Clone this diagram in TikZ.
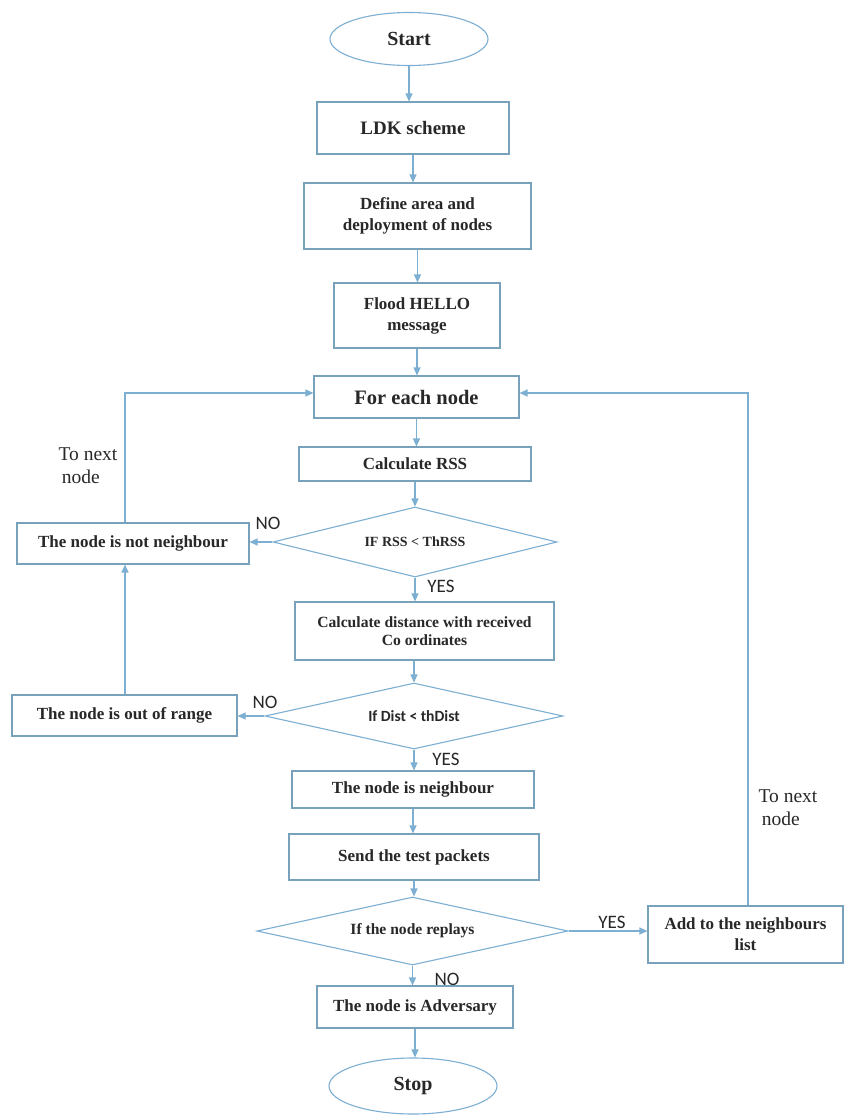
\documentclass[tikz,border=0pt]{standalone}
\usepackage{fontspec}
\setmainfont{Liberation Serif}
\newfontfamily\lblfont{Carlito}
\usetikzlibrary{shapes.geometric,arrows.meta}
\definecolor{lineblue}{RGB}{125,175,210}
\definecolor{boxblue}{RGB}{120,162,188}
\definecolor{inkc}{RGB}{40,40,40}
\begin{document}
\begin{tikzpicture}[x=1pt,y=-1pt,
  box/.style={draw=boxblue,line width=1.1pt,rectangle,inner sep=0pt,text=inkc,
    font=\bfseries\fontsize{17}{21}\selectfont,align=center},
  term/.style={draw=lineblue,ellipse,line width=1.1pt,inner sep=0pt,text=inkc,
    font=\bfseries\fontsize{20}{22}\selectfont},
  dec/.style={draw=lineblue,diamond,aspect=4,inner sep=0pt,line width=1.1pt,text=inkc},
  arr/.style={draw=lineblue,line width=1.2pt,-{Triangle[length=8pt,width=7pt]}},
  lbl/.style={font=\lblfont\fontsize{19}{21}\selectfont,text=inkc,inner sep=0pt},
  note/.style={font=\fontsize{19.5}{23}\selectfont,text=inkc,align=left,inner sep=0pt}
]
\useasboundingbox[fill=white] (0,0) rectangle (859,1117);

% main column
\node[term,minimum width=158pt,minimum height=53pt] (start) at (409,39) {Start};
\node[box,minimum width=192pt,minimum height=52pt,font=\bfseries\fontsize{19}{21}\selectfont] (ldk) at (413,128) {LDK scheme};
\node[box,minimum width=227pt,minimum height=66pt] (def) at (417.5,216) {Define area and\\deployment of nodes};
\node[box,minimum width=166pt,minimum height=65pt] (flood) at (417,315.5) {Flood HELLO\\message};
\node[box,minimum width=205pt,minimum height=42pt,font=\bfseries\fontsize{20.5}{22}\selectfont] (each) at (416.5,397) {For each node};
\node[box,minimum width=232pt,minimum height=34pt] (rss) at (415,464) {Calculate RSS};
\node[dec,minimum width=284pt,minimum height=70pt,font=\bfseries\fontsize{14}{16}\selectfont] (d1) at (415,542) {IF RSS < ThRSS};
\node[box,minimum width=232pt,minimum height=41pt] (notn) at (133,543.5) {The node is not neighbour};
\node[box,minimum width=259pt,minimum height=58pt,font=\bfseries\fontsize{15.6}{18}\selectfont] (cd) at (424.5,631) {Calculate distance with received\\Co ordinates};
\node[dec,minimum width=298pt,minimum height=66pt,font=\lblfont\bfseries\fontsize{15.6}{17}\selectfont] (d2) at (414,716) {If Dist < thDist};
\node[box,minimum width=225pt,minimum height=41pt] (oor) at (124.5,715.5) {The node is out of range};
\node[box,minimum width=242pt,minimum height=37pt] (nb) at (413,789.5) {The node is neighbour};
\node[box,minimum width=250pt,minimum height=46pt] (send) at (414,857) {Send the test packets};
\node[dec,minimum width=311pt,minimum height=68pt,font=\bfseries\fontsize{15.6}{17}\selectfont] (d3) at (412.5,931) {If the node replays};
\node[box,minimum width=195pt,minimum height=57pt] (add) at (745.5,934.5) {Add to the neighbours\\list};
\node[box,minimum width=196pt,minimum height=42pt] (adv) at (415,1007) {The node is Adversary};
\node[term,minimum width=168pt,minimum height=56pt] (stop) at (413,1086) {Stop};

% labels
\node[lbl] (no1) at (268,523) {NO};
\node[lbl] (yes1) at (441,586) {YES};
\node[lbl] (no2) at (265,702) {NO};
\node[lbl] (yes2) at (446,759) {YES};
\node[lbl] (yes3) at (612,922) {YES};
\node[lbl] (no3) at (447,979) {NO};
\node[note] (tnl) at (88,466) {To next\\\,node};
\node[note] (tnr) at (788,808) {To next\\\,node};

% loop coordinates
\coordinate (lx) at (125,0);
\coordinate (rx) at (748,0);
\coordinate (eachW) at ([yshift=4pt]each.west);
\coordinate (eachE) at ([yshift=4pt]each.east);

% main arrows
\draw[arr] (start.south) -- (start.south |- ldk.north);
\draw[arr] (ldk.south) -- (ldk.south |- def.north);
\draw[arr] (def.south) -- (def.south |- flood.north);
\draw[arr] (flood.south) -- (flood.south |- each.north);
\draw[arr] (each.south) -- (each.south |- rss.north);
\draw[arr] (rss.south) -- (rss.south |- d1.north);
\draw[arr] (d1.south) -- (d1.south |- cd.north);
\draw[arr] (cd.south -| d2.north) -- (d2.north);
\draw[arr] (d2.south) -- (d2.south |- nb.north);
\draw[arr] (nb.south) -- (nb.south |- send.north);
\draw[arr] (send.south) -- (send.south |- d3.north);
\draw[arr] (d3.south) -- (d3.south |- adv.north);
\draw[arr] (adv.south) -- (adv.south |- stop.north);

% branches
\draw[arr] (d1.west) -- (d1.west -| notn.east);
\draw[arr] (d2.west) -- (d2.west -| oor.east);
\draw[arr] (d3.east) -- (d3.east -| add.west);

% loops
\draw[arr] (oor.north -| lx) -- (notn.south -| lx);
\draw[arr] (notn.north -| lx) -- (lx |- eachW) -- (eachW);
\draw[arr] (add.north -| rx) -- (rx |- eachE) -- (eachE);
\end{tikzpicture}
\end{document}
